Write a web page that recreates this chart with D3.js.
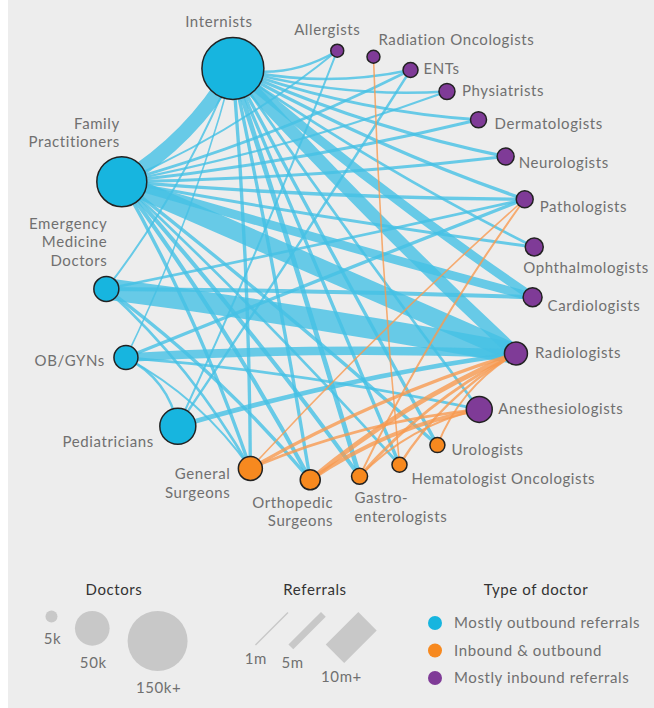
<!DOCTYPE html>
<html><head><meta charset="utf-8">
<script src="https://cdn.jsdelivr.net/npm/d3@7"></script>
<style>
html,body{margin:0;padding:0;background:#fff;}
svg{display:block;}
text{font-family:"Lato",sans-serif;letter-spacing:0.6px;}
</style></head><body>
<svg id="chart" width="654" height="708"></svg>
<script>
// ---------------- DATA ----------------
const doctorTypes = ["Mostly outbound referrals", "Inbound & outbound", "Mostly inbound referrals"];

const nodeNames = ["Allergists", "Radiation Oncologists", "ENTs", "Physiatrists", "Dermatologists",
  "Neurologists", "Pathologists", "Ophthalmologists", "Cardiologists", "Radiologists",
  "Anesthesiologists", "Urologists", "Hematologist Oncologists", "Gastroenterologists",
  "Orthopedic Surgeons", "General Surgeons", "Pediatricians", "OB/GYNs",
  "Emergency Medicine Doctors", "Family Practitioners", "Internists"];

const nodeLabelLines = [["Allergists"], ["Radiation Oncologists"], ["ENTs"], ["Physiatrists"], ["Dermatologists"],
  ["Neurologists"], ["Pathologists"], ["Ophthalmologists"], ["Cardiologists"], ["Radiologists"],
  ["Anesthesiologists"], ["Urologists"], ["Hematologist Oncologists"], ["Gastro-", "enterologists"],
  ["Orthopedic", "Surgeons"], ["General", "Surgeons"], ["Pediatricians"], ["OB/GYNs"],
  ["Emergency", "Medicine", "Doctors"], ["Family", "Practitioners"], ["Internists"]];

// number of doctors (estimated from circle sizes)
const nodeDoctors = [7000, 7000, 9400, 10700, 10700, 12000, 12000, 13500, 15000, 22000,
  28000, 9400, 9400, 10700, 16700, 24000, 54000, 24000, 26000, 104000, 160000];

// 0 = mostly outbound, 1 = inbound & outbound, 2 = mostly inbound
const nodeType = [2, 2, 2, 2, 2, 2, 2, 2, 2, 2, 2, 1, 1, 1, 1, 1, 0, 0, 0, 0, 0];

// referrals between doctor types (millions, estimated)
const linkSource = [
  "Internists", "Internists", "Internists", "Internists", "Internists", "Internists", "Internists", "Internists",
  "Internists", "Internists", "Internists", "Internists", "Internists", "Internists", "Internists",
  "Family Practitioners", "Family Practitioners", "Family Practitioners", "Family Practitioners", "Family Practitioners",
  "Family Practitioners", "Family Practitioners", "Family Practitioners", "Family Practitioners", "Family Practitioners",
  "Family Practitioners", "Family Practitioners", "Family Practitioners", "Family Practitioners", "Family Practitioners",
  "Emergency Medicine Doctors", "Emergency Medicine Doctors", "Emergency Medicine Doctors", "Emergency Medicine Doctors",
  "Emergency Medicine Doctors", "Emergency Medicine Doctors",
  "OB/GYNs", "OB/GYNs", "OB/GYNs", "OB/GYNs", "OB/GYNs", "OB/GYNs",
  "Pediatricians", "Pediatricians", "Pediatricians",
  "General Surgeons", "General Surgeons", "General Surgeons",
  "Orthopedic Surgeons", "Orthopedic Surgeons",
  "Gastroenterologists", "Gastroenterologists", "Gastroenterologists",
  "Hematologist Oncologists", "Hematologist Oncologists",
  "Urologists"];
const linkTarget = [
  "Allergists", "ENTs", "Physiatrists", "Dermatologists", "Neurologists", "Pathologists", "Ophthalmologists", "Cardiologists",
  "Radiologists", "Anesthesiologists", "Urologists", "Hematologist Oncologists", "Gastroenterologists", "Orthopedic Surgeons", "General Surgeons",
  "Internists", "Allergists", "ENTs", "Physiatrists", "Dermatologists",
  "Neurologists", "Pathologists", "Ophthalmologists", "Cardiologists", "Radiologists",
  "Urologists", "Hematologist Oncologists", "Gastroenterologists", "Orthopedic Surgeons", "General Surgeons",
  "Radiologists", "Cardiologists", "Internists", "Pathologists",
  "Orthopedic Surgeons", "General Surgeons",
  "Radiologists", "Pediatricians", "Internists", "Pathologists", "Anesthesiologists", "General Surgeons",
  "Radiologists", "Allergists", "ENTs",
  "Radiologists", "Anesthesiologists", "Pathologists",
  "Radiologists", "Anesthesiologists",
  "Radiologists", "Pathologists", "Anesthesiologists",
  "Radiologists", "Radiation Oncologists",
  "Radiologists"];
const linkReferrals = [
  1.8, 2.0, 1.8, 2.2, 2.5, 2.5, 2.0, 5.5,
  6.5, 2.0, 2.5, 2.5, 3.5, 2.5, 2.5,
  7.0, 1.5, 2.0, 1.5, 2.2,
  2.2, 2.5, 2.2, 5.5, 8.0,
  2.5, 2.0, 3.0, 3.0, 2.5,
  8.8, 3.0, 1.5, 2.0,
  2.5, 2.0,
  5.5, 1.8, 1.2, 2.5, 2.0, 1.5,
  3.5, 1.5, 1.8,
  2.5, 2.0, 1.2,
  3.5, 3.0,
  2.2, 1.5, 1.5,
  1.8, 1.2,
  1.5];

const doctorLegendValues = [5000, 50000, 150000];
const doctorLegendLabels = ["5k", "50k", "150k+"];
const referralLegendValues = [1, 5, 10];
const referralLegendLabels = ["1m", "5m", "10m+"];

// ---------------- LAYOUT / STYLE ----------------
const nodeAngleDeg = [4.6, 14.4, 24.9, 36.2, 47.5, 59.7, 72.2, 85.2, 98.6, 114.3,
  132.2, 146.9, 158.3, 169.4, 182.6, 198.9, 221.4, 244.5, 263.6, 292.8, 336.1];
// label placement: [anchor, dx, dy(first baseline)]
const labelPlace = [["middle", -10, -16], ["start", 5, -12], ["start", 13, 4], ["start", 15, 4], ["start", 16, 9],
  ["start", 13, 11], ["start", 15, 13], ["start", -11, 26], ["start", 15, 14], ["start", 19, 5],
  ["start", 19, 5], ["start", 14, 10], ["start", 12, 19], ["start", -5, 27],
  ["end", 23, 28], ["end", -20, 11], ["end", -24, 21], ["end", -21, 8],
  ["end", 1, -60], ["end", -2, -53], ["middle", -14, -41]];
const lineH = 18.5;
const fontSize = 15;
const ring = {cx: 320, cy: 265, r: 215};
const nodeColors = ["#17b5df", "#f7891f", "#7f3b97"];
const linkColors = ["#45c0e5", "#f79a50"];
const labelColor = "#707070";
const titleColor = "#333";

const svg = d3.select("#chart");
svg.append("rect").attr("width", 654).attr("height", 708).attr("fill", "#fff");
svg.append("rect").attr("x", 8).attr("width", 646).attr("height", 708).attr("fill", "#ededed");

const angle = d3.scaleLinear().domain([0, 360]).range([0, 2 * Math.PI]);
const rScale = d3.scaleSqrt().domain([0, 150000]).range([0, 30]);
const wScale = d3.scaleLinear().domain([0, 1, 5, 10]).range([0, 1.3, 6.8, 26]);
const color = d3.scaleOrdinal().domain([0, 1, 2]).range(nodeColors);

const nodes = nodeNames.map((name, i) => {
  const [px, py] = d3.pointRadial(angle(nodeAngleDeg[i]), ring.r);
  return {name, i, x: ring.cx + px, y: ring.cy + py, r: rScale(nodeDoctors[i]), type: nodeType[i]};
});
const byName = new Map(nodes.map(n => [n.name, n]));
const links = linkSource.map((s, i) => ({
  s: byName.get(s), t: byName.get(linkTarget[i]), v: linkReferrals[i]
}));
links.forEach(l => l.kind = l.s.type === 0 ? 0 : 1);
links.sort((a, b) => (a.kind - b.kind) || (b.v - a.v));

function linkPath(l) {
  const mx = (l.s.x + l.t.x) / 2, my = (l.s.y + l.t.y) / 2;
  const k = 0.1;
  const qx = mx + (ring.cx - mx) * k, qy = my + (ring.cy - my) * k;
  const p = d3.path();
  p.moveTo(l.s.x, l.s.y);
  p.quadraticCurveTo(qx, qy, l.t.x, l.t.y);
  return p.toString();
}

svg.append("g").selectAll("path").data(links).join("path")
  .attr("d", linkPath)
  .attr("fill", "none")
  .attr("stroke", d => linkColors[d.kind])
  .attr("stroke-opacity", 0.8)
  .attr("stroke-width", d => wScale(d.v));

svg.append("g").selectAll("circle").data(nodes).join("circle")
  .attr("cx", d => d.x).attr("cy", d => d.y).attr("r", d => d.r)
  .attr("fill", d => color(d.type))
  .attr("stroke", "#222").attr("stroke-width", 1.5);

const lab = svg.append("g").selectAll("text").data(nodes).join("text")
  .attr("font-size", fontSize).attr("fill", labelColor)
  .attr("text-anchor", d => labelPlace[d.i][0]);
lab.selectAll("tspan").data(d => nodeLabelLines[d.i].map((t, j) => ({t, j, d}))).join("tspan")
  .attr("x", o => o.d.x + labelPlace[o.d.i][1])
  .attr("y", o => o.d.y + labelPlace[o.d.i][2] + o.j * lineH)
  .text(o => o.t);

// ---------------- LEGENDS ----------------
const legTop = 611;
function title(x, t) {
  svg.append("text").attr("x", x).attr("y", 595).attr("text-anchor", "middle")
    .attr("font-size", fontSize).attr("fill", titleColor).text(t);
}
title(114, "Doctors");
title(315, "Referrals");
title(536, "Type of doctor");

// Doctors: circles top-aligned, packed left to right
let cursor = 46;
const docLeg = doctorLegendValues.map((v, i) => {
  const r = rScale(v);
  const cx = cursor + r;
  cursor = cx + r + 18;
  return {v, r, cx, cy: legTop + r, label: doctorLegendLabels[i]};
});
const gd = svg.append("g");
gd.selectAll("circle").data(docLeg).join("circle")
  .attr("cx", d => d.cx).attr("cy", d => d.cy).attr("r", d => Math.max(d.r, 6)).attr("fill", "#c8c8c8");
gd.selectAll("text").data(docLeg).join("text")
  .attr("x", d => d.cx + 1).attr("y", d => d.cy + d.r + 22)
  .attr("text-anchor", "middle").attr("font-size", fontSize).attr("fill", labelColor).text(d => d.label);

// Referrals: 45° strokes
const L = 46, s45 = Math.SQRT1_2;
let rc = 255;
const refLeg = referralLegendValues.map((v, i) => {
  const w = wScale(v);
  const half = (L + w) * s45 / 2;
  const cx = rc + half;
  rc = cx + half;
  return {v, w, cx, cy: legTop + 1 + half, label: referralLegendLabels[i]};
});
const gr = svg.append("g");
gr.selectAll("line").data(refLeg).join("line")
  .attr("x1", d => d.cx - L / 2 * s45).attr("y1", d => d.cy + L / 2 * s45)
  .attr("x2", d => d.cx + L / 2 * s45).attr("y2", d => d.cy - L / 2 * s45)
  .attr("stroke", "#c8c8c8").attr("stroke-width", d => d.w);
gr.selectAll("text").data(refLeg).join("text")
  .attr("x", d => d.cx - L / 2 * s45 + d.w * 0.25)
  .attr("y", d => d.cy + L / 2 * s45 + 18 + d.w * 0.4)
  .attr("text-anchor", "middle").attr("font-size", fontSize).attr("fill", labelColor).text(d => d.label);

// Type of doctor
const typeY = d3.scalePoint().domain(doctorTypes).range([623, 678]);
const gt = svg.append("g");
gt.selectAll("circle").data(doctorTypes).join("circle")
  .attr("cx", 435).attr("cy", d => typeY(d)).attr("r", 7)
  .attr("fill", (d, i) => color(i));
gt.selectAll("text").data(doctorTypes).join("text")
  .attr("x", 454).attr("y", d => typeY(d) + 5)
  .attr("font-size", fontSize).attr("fill", labelColor).text(d => d);
</script>
</body></html>
